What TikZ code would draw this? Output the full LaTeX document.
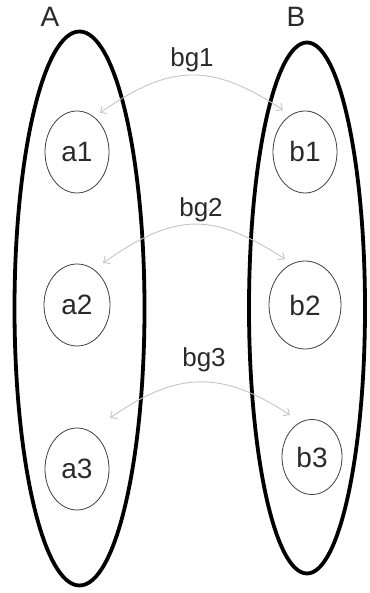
\documentclass[tikz,border=0pt]{standalone}
\usepackage{fontspec}
\setmainfont{Liberation Sans}
\usetikzlibrary{shapes.geometric,arrows.meta}
\definecolor{txt}{HTML}{2A2A2A}
\definecolor{arc}{HTML}{C4C4C4}
\tikzset{
  setbox/.style={draw=black,line width=3.8pt,ellipse,inner sep=0pt},
  elem/.style={draw=black!75,line width=0.8pt,ellipse,inner sep=0pt,text=txt,font=\fontsize{28}{30}\selectfont},
  setlabel/.style={text=txt,font=\fontsize{28}{30}\selectfont},
  bglabel/.style={text=txt,font=\fontsize{26}{29}\selectfont},
  bgarc/.style={draw=arc,line width=0.9pt,{Straight Barb[length=5pt,width=9pt]}-{Straight Barb[length=5pt,width=9pt]}}
}
\begin{document}
\begin{tikzpicture}[x=1pt,y=1pt]
\useasboundingbox (0,0) rectangle (369,593);
\node[setbox,minimum width=130,minimum height=554] (A) at (79.5,284.5) {};
\node[setbox,minimum width=116,minimum height=531] (B) at (307,285) {};
\node[setlabel] (Alab) at (50,576) {A};
\node[setlabel] (Blab) at (296,576) {B};
\node[elem,minimum width=64,minimum height=82] (a1) at (77,441) {a1};
\node[elem,minimum width=66,minimum height=82] (a2) at (77,288) {a2};
\node[elem,minimum width=64,minimum height=82] (a3) at (77,124) {a3};
\node[elem,minimum width=64,minimum height=82] (b1) at (305,441) {b1};
\node[elem,minimum width=72,minimum height=88] (b2) at (305,288) {b2};
\node[elem,minimum width=60,minimum height=75] (b3) at (312,136) {b3};
\node[bglabel] (bg1) at (192,533) {bg1};
\node[bglabel] (bg2) at (201,383) {bg2};
\node[bglabel] (bg3) at (204,233) {bg3};
\coordinate (s1) at (100,480);
\coordinate (e1) at (283,483);
\coordinate (s2) at (103,330);
\coordinate (e2) at (285,334);
\coordinate (s3) at (110,175);
\coordinate (e3) at (290,178);
\draw[bgarc] (s1) .. controls (171,530) and (212,530) .. (e1);
\draw[bgarc] (s2) .. controls (176,381) and (212,381) .. (e2);
\draw[bgarc] (s3) .. controls (178,222.5) and (222,222.5) .. (e3);
\end{tikzpicture}
\end{document}
